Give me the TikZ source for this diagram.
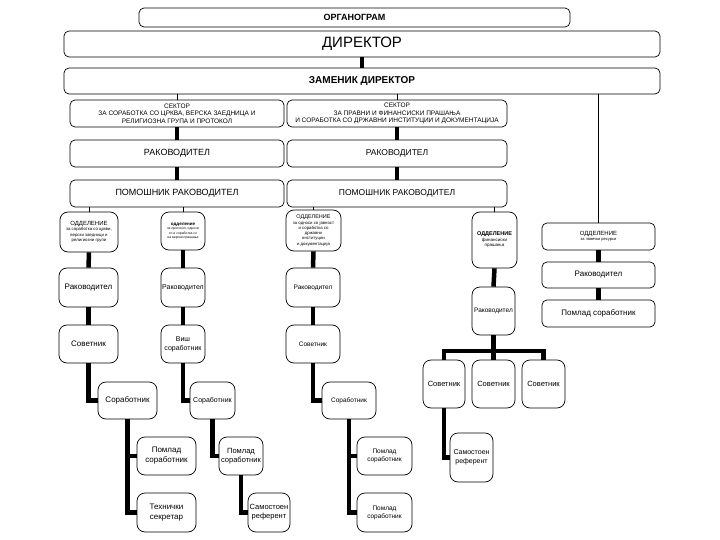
\documentclass[tikz,border=0pt]{standalone}
\usepackage{fontspec}
\setmainfont{Liberation Sans}
\usetikzlibrary{positioning}

\begin{document}
\begin{tikzpicture}[x=1pt,y=-1pt,
  box/.style={draw,rounded corners=5pt,line width=0.7pt,align=center,inner xsep=0.5pt,inner ysep=0pt},
  tall/.style={box,rounded corners=8pt},
  fat/.style={line width=4.5pt,line join=miter},
  slim/.style={line width=0.7pt}]
\useasboundingbox (0,0) rectangle (720,540);

\node[box,minimum width=431,minimum height=19,font=\fontsize{9}{10}\selectfont\bfseries] (org) at (354.5,17.5) {ОРГАНОГРАМ};
\node[box,minimum width=596,minimum height=26,font=\fontsize{15}{16}\selectfont] (dir) at (362,44) {ДИРЕКТОР};
\node[box,minimum width=596,minimum height=26,font=\fontsize{10}{11}\selectfont\bfseries] (zam) at (362,81) {ЗАМЕНИК ДИРЕКТОР};

\node[box,minimum width=214,minimum height=27,font=\fontsize{6.5}{7.5}\selectfont] (sek1) at (177,113.5) {СЕКТОР\\ЗА СОРАБОТКА СО ЦРКВА, ВЕРСКА ЗАЕДНИЦА И\\РЕЛИГИОЗНА ГРУПА И ПРОТОКОЛ};
\node[box,minimum width=220,minimum height=27,font=\fontsize{6.5}{7.5}\selectfont] (sek2) at (397,113.5) {СЕКТОР\\ЗА ПРАВНИ И ФИНАНСИСКИ ПРАШАЊА\\И СОРАБОТКА СО ДРЖАВНИ ИНСТИТУЦИИ И ДОКУМЕНТАЦИЈА};
\node[box,minimum width=214,minimum height=27,font=\fontsize{9}{10}\selectfont] (rak1) at (177,153.5) {РАКОВОДИТЕЛ};
\node[box,minimum width=220,minimum height=27,font=\fontsize{8.5}{10}\selectfont] (rak2) at (397,153.5) {РАКОВОДИТЕЛ};
\node[box,minimum width=214,minimum height=27,font=\fontsize{9}{10}\selectfont] (pom1) at (177,193.5) {ПОМОШНИК РАКОВОДИТЕЛ};
\node[box,minimum width=220,minimum height=27,font=\fontsize{8.5}{10}\selectfont] (pom2) at (397,193.5) {ПОМОШНИК РАКОВОДИТЕЛ};

\node[tall,minimum width=58,minimum height=40,font=\fontsize{4.3}{5.5}\selectfont] (odd1) at (89,232) {{\fontsize{6}{7}\selectfont ОДДЕЛЕНИЕ}\\за соработка со цркви,\\верски заедници и\\религиозни групи};
\node[tall,minimum width=44,minimum height=38,font=\fontsize{3.4}{4.3}\selectfont] (odd2) at (183,231) {{\fontsize{4.5}{5.5}\selectfont\bfseries одделение}\\за протокол, односи\\со и соработка со\\на верски прашања};
\node[tall,minimum width=55,minimum height=41,font=\fontsize{4.3}{5.3}\selectfont] (odd3) at (313.5,230.5) {{\fontsize{5.5}{6}\selectfont ОДДЕЛЕНИЕ}\\за односи со јавност\\и соработка со\\државни\\институции\\и документација};
\node[tall,minimum width=45,minimum height=56,font=\fontsize{4.5}{5.5}\selectfont] (odd4) at (494.5,240) {{\fontsize{5.5}{6.5}\selectfont\bfseries ОДДЕЛЕНИЕ}\\финансиски\\прашања};
\node[box,minimum width=113,minimum height=27,font=\fontsize{4}{5}\selectfont] (odd5) at (598.5,236.5) {{\fontsize{6}{7}\selectfont ОДДЕЛЕНИЕ}\\за човечки ресурси};
\node[box,minimum width=113,minimum height=26,font=\fontsize{8}{9}\selectfont] (hrRak) at (598.5,275) {Раководител};
\node[box,minimum width=113,minimum height=27,font=\fontsize{8}{9}\selectfont] (hrPom) at (598.5,313.5) {Помлад соработник};

\node[tall,minimum width=59,minimum height=39,font=\fontsize{8}{9}\selectfont] (c1rak) at (88.5,287.5) {Раководител};
\node[tall,minimum width=59,minimum height=38,font=\fontsize{8}{9}\selectfont] (c1sov) at (88.5,344) {Советник};
\node[tall,minimum width=59,minimum height=37,font=\fontsize{8}{9}\selectfont] (c1sor) at (127.5,400.5) {Соработник};
\node[tall,minimum width=59,minimum height=38,font=\fontsize{8}{10}\selectfont] (c1pom) at (166.5,456) {Помлад\\соработник};
\node[tall,minimum width=59,minimum height=39,font=\fontsize{8}{10}\selectfont] (c1teh) at (166.5,512.5) {Технички\\секретар};

\node[tall,minimum width=44,minimum height=39,font=\fontsize{7}{8}\selectfont] (c2rak) at (183,287.5) {Раководител};
\node[tall,minimum width=44,minimum height=38,font=\fontsize{7}{9}\selectfont] (c2vis) at (183,344) {Виш\\соработник};
\node[tall,minimum width=45,minimum height=37,font=\fontsize{7}{8}\selectfont] (c2sor) at (212.5,400.5) {Соработник};
\node[tall,minimum width=44,minimum height=38,font=\fontsize{7.5}{9}\selectfont] (c2pom) at (241,456) {Помлад\\соработник};
\node[tall,minimum width=42,minimum height=39,font=\fontsize{7.5}{9}\selectfont] (c2sam) at (269,512.5) {Самостоен\\референт};

\node[tall,minimum width=54,minimum height=39,font=\fontsize{6.5}{7.5}\selectfont] (c3rak) at (313,287.5) {Раководител};
\node[tall,minimum width=54,minimum height=38,font=\fontsize{6.5}{7.5}\selectfont] (c3sov) at (313,344) {Советник};
\node[tall,minimum width=54,minimum height=37,font=\fontsize{6.5}{7.5}\selectfont] (c3sor) at (349,400.5) {Соработник};
\node[tall,minimum width=55,minimum height=38,font=\fontsize{6.5}{8}\selectfont] (c3pom1) at (384.5,456) {Помлад\\соработник};
\node[tall,minimum width=55,minimum height=39,font=\fontsize{6.5}{8}\selectfont] (c3pom2) at (384.5,512.5) {Помлад\\соработник};

\node[tall,minimum width=43,minimum height=48,font=\fontsize{6.5}{7.5}\selectfont] (c4rak) at (493.5,311) {Раководител};
\node[tall,minimum width=42,minimum height=48,font=\fontsize{7.5}{8.5}\selectfont] (c4sov1) at (444,384) {Советник};
\node[tall,minimum width=43,minimum height=48,font=\fontsize{7.5}{8.5}\selectfont] (c4sov2) at (493.5,384) {Советник};
\node[tall,minimum width=43,minimum height=48,font=\fontsize{7.5}{8.5}\selectfont] (c4sov3) at (543.5,384) {Советник};
\node[tall,minimum width=43,minimum height=49,font=\fontsize{7}{9}\selectfont] (c4sam) at (471.5,457.5) {Самостоен\\референт};
\coordinate (c4bus) at (493.5,351);

\draw[fat] (dir.south) -- (zam.north);
\draw[slim] (sek1.north |- zam.south) -- (sek1.north);
\draw[slim] (sek2.north |- zam.south) -- (sek2.north);
\draw[slim] (odd5.north |- zam.south) -- (odd5.north);
\draw[fat] (sek1) -- (rak1) -- (pom1);
\draw[fat] (sek2) -- (rak2) -- (pom2);
\draw[slim] (odd1.north |- pom1.south) -- (odd1.north);
\draw[slim] (odd2.north |- pom1.south) -- (odd2.north);
\draw[slim] (odd3.north |- pom2.south) -- (odd3.north);
\draw[slim] (odd4.north |- pom2.south) -- (odd4.north);
\draw[fat] (odd5) -- (hrRak) -- (hrPom);

\draw[fat] (odd1.south) -- (c1rak.north);
\draw[fat] (c1rak) -- (c1sov);
\draw[fat] (c1sov.south) |- (c1sor.west);
\draw[fat] (c1sor.south) |- (c1pom.west);
\draw[fat] (c1sor.south) |- (c1teh.west);

\draw[fat] (odd2.south) -- (c2rak.north);
\draw[fat] (c2rak) -- (c2vis);
\draw[fat] (c2vis.south) |- (c2sor.west);
\draw[fat] (c2sor.south) |- (c2pom.west);
\draw[fat] (c2pom.south) |- (c2sam.west);

\draw[fat] (odd3.south) -- (c3rak.north);
\draw[fat] (c3rak) -- (c3sov);
\draw[fat] (c3sov.south) |- (c3sor.west);
\draw[fat] (c3sor.south) |- (c3pom1.west);
\draw[fat] (c3sor.south) |- (c3pom2.west);

\draw[fat] (odd4.south) -- (c4rak.north);
\draw[fat] (c4rak.south) -- (c4sov2.north);
\draw[fat] (c4sov1.north) -- (c4sov1.north |- c4bus) -- (c4sov3.north |- c4bus) -- (c4sov3.north);
\draw[fat] (c4sov1.south) |- (c4sam.west);
\end{tikzpicture}
\end{document}
